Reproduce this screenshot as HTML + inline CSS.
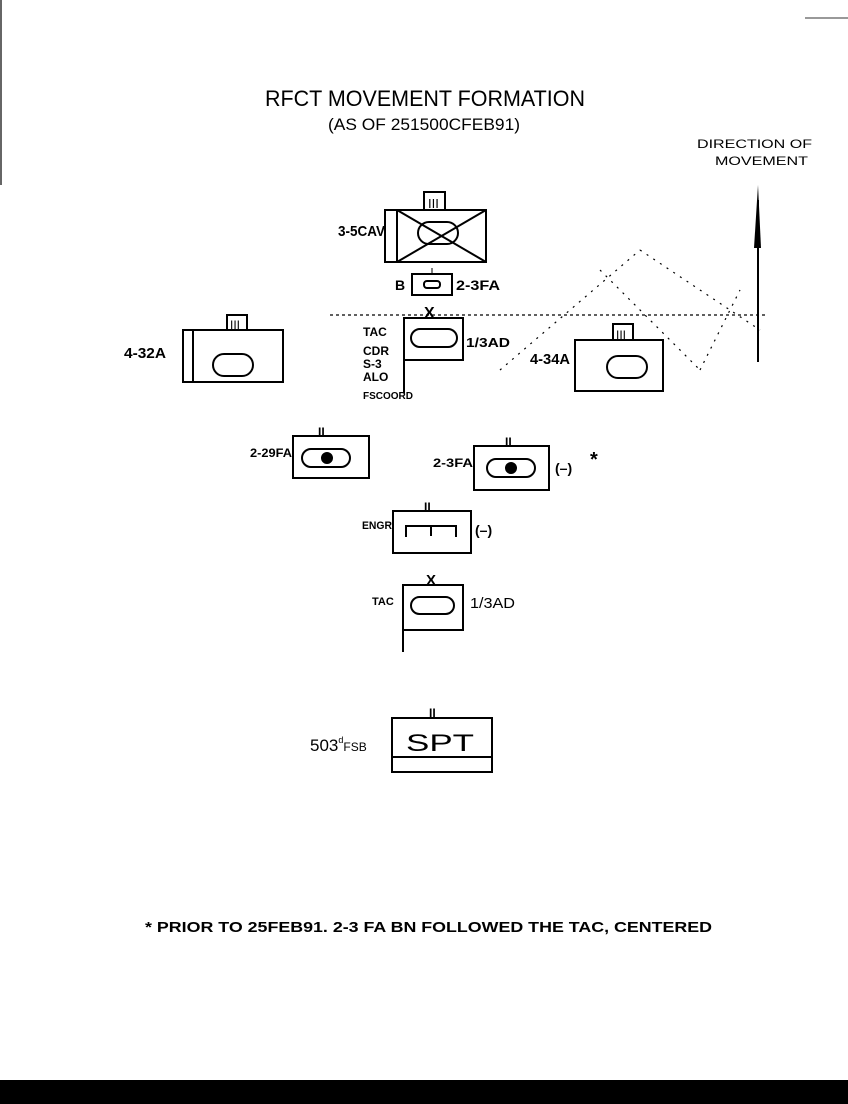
<!DOCTYPE html>
<html><head><meta charset="utf-8"><style>
html,body{margin:0;padding:0;background:#fff}
svg{display:block}
text{font-family:"Liberation Sans",sans-serif;fill:#000}
.b{font-weight:bold}
</style></head><body>
<svg width="848" height="1104" viewBox="0 0 848 1104" xmlns="http://www.w3.org/2000/svg">
<rect x="0" y="1080" width="848" height="24" fill="#000"/>
<line x1="1" y1="0" x2="1" y2="185" stroke="#333" stroke-width="1.5"/>
<line x1="805" y1="18" x2="848" y2="18" stroke="#333" stroke-width="1"/>
<g stroke="#000" stroke-width="2" fill="none">
<text x="265" y="106" font-size="22" textLength="320" lengthAdjust="spacingAndGlyphs" stroke="none">RFCT MOVEMENT FORMATION</text>
<text x="328" y="130" font-size="17" textLength="192" lengthAdjust="spacingAndGlyphs" stroke="none">(AS OF 251500CFEB91)</text>
<text x="697" y="148" font-size="12" textLength="115" lengthAdjust="spacingAndGlyphs" stroke="none">DIRECTION OF</text>
<text x="715" y="165" font-size="12" textLength="93" lengthAdjust="spacingAndGlyphs" stroke="none">MOVEMENT</text>
<line x1="758" y1="200" x2="758" y2="362"/>
<polygon points="758,185 754,248 761,248" fill="#000" stroke="none"/>
<line x1="330" y1="315" x2="765" y2="315" stroke-dasharray="3,3" stroke-width="1.3"/>
<g stroke-dasharray="2,6" stroke-width="1.2">
<line x1="500" y1="370" x2="640" y2="250"/><line x1="640" y1="250" x2="760" y2="330"/>
<line x1="600" y1="270" x2="700" y2="370"/><line x1="700" y1="370" x2="740" y2="290"/>
</g>
<rect x="424" y="192" width="21" height="18"/>
<text x="428" y="208" font-size="13" stroke="none">III</text>
<rect x="385" y="210" width="101" height="52"/>
<line x1="397" y1="210" x2="397" y2="262"/>
<line x1="397" y1="210" x2="486" y2="262"/><line x1="486" y1="210" x2="397" y2="262"/>
<rect x="418" y="222" width="40" height="22" rx="11"/>
<text class="b" x="338" y="236" font-size="15" textLength="47" lengthAdjust="spacingAndGlyphs" stroke="none">3-5CAV</text>
<rect x="412" y="274" width="40" height="21"/>
<rect x="424" y="281" width="16" height="7" rx="3"/>
<line x1="432" y1="268" x2="432" y2="274" stroke-width="1"/>
<text class="b" x="395" y="290" font-size="14" stroke="none">B</text>
<text class="b" x="456" y="290" font-size="14" textLength="44" lengthAdjust="spacingAndGlyphs" stroke="none">2-3FA</text>
<text class="b" x="424" y="318" font-size="16" stroke="none">X</text>
<rect x="404" y="318" width="59" height="42"/>
<line x1="404" y1="360" x2="404" y2="393"/>
<rect x="411" y="329" width="46" height="18" rx="9"/>
<text class="b" x="466" y="347" font-size="13" textLength="44" lengthAdjust="spacingAndGlyphs" stroke="none">1/3AD</text>
<g font-size="12" stroke="none" class="b"><text x="363" y="336">TAC</text><text x="363" y="355">CDR</text><text x="363" y="368">S-3</text><text x="363" y="381">ALO</text><text x="363" y="399" font-size="10">FSCOORD</text></g>
<rect x="227" y="315" width="20" height="15"/>
<text x="230" y="329" font-size="12" stroke="none">III</text>
<rect x="183" y="330" width="100" height="52"/>
<line x1="193" y1="330" x2="193" y2="382"/>
<rect x="213" y="354" width="40" height="22" rx="11"/>
<text class="b" x="124" y="358" font-size="15" textLength="42" lengthAdjust="spacingAndGlyphs" stroke="none">4-32A</text>
<rect x="613" y="324" width="20" height="16"/>
<text x="616" y="339" font-size="12" stroke="none">III</text>
<rect x="575" y="340" width="88" height="51"/>
<rect x="607" y="356" width="40" height="22" rx="11"/>
<text class="b" x="530" y="364" font-size="15" textLength="40" lengthAdjust="spacingAndGlyphs" stroke="none">4-34A</text>
<text class="b" x="318" y="436" font-size="12" stroke="none">II</text>
<rect x="293" y="436" width="76" height="42"/>
<rect x="302" y="449" width="48" height="18" rx="9"/>
<circle cx="327" cy="458" r="5" fill="#000"/>
<text class="b" x="250" y="457" font-size="12" textLength="42" lengthAdjust="spacingAndGlyphs" stroke="none">2-29FA</text>
<text class="b" x="505" y="446" font-size="12" stroke="none">II</text>
<rect x="474" y="446" width="75" height="44"/>
<rect x="487" y="459" width="48" height="18" rx="9"/>
<circle cx="511" cy="468" r="5" fill="#000"/>
<text class="b" x="433" y="467" font-size="12" textLength="40" lengthAdjust="spacingAndGlyphs" stroke="none">2-3FA</text>
<text class="b" x="555" y="473" font-size="14" stroke="none">(–)</text>
<text class="b" x="590" y="466" font-size="20" stroke="none">*</text>
<text class="b" x="424" y="511" font-size="12" stroke="none">II</text>
<rect x="393" y="511" width="78" height="42"/>
<polyline points="406,537 406,526 456,526 456,537"/>
<line x1="431" y1="526" x2="431" y2="536"/>
<text class="b" x="362" y="529" font-size="11" textLength="30" lengthAdjust="spacingAndGlyphs" stroke="none">ENGR</text>
<text class="b" x="475" y="535" font-size="14" stroke="none">(–)</text>
<text class="b" x="426" y="585" font-size="15" stroke="none">X</text>
<rect x="403" y="585" width="60" height="45"/>
<line x1="403" y1="630" x2="403" y2="652"/>
<rect x="411" y="597" width="43" height="17" rx="8.5"/>
<text class="b" x="372" y="605" font-size="11" stroke="none">TAC</text>
<text x="470" y="608" font-size="15" textLength="45" lengthAdjust="spacingAndGlyphs" stroke="none">1/3AD</text>
<text class="b" x="429" y="717" font-size="12" stroke="none">II</text>
<rect x="392" y="718" width="100" height="54"/>
<line x1="392" y1="757" x2="492" y2="757"/>
<text x="406" y="751" font-size="24" textLength="68" lengthAdjust="spacingAndGlyphs" stroke="none">SPT</text>
<text x="310" y="751" font-size="17" stroke="none">503<tspan font-size="9" dy="-8">d</tspan><tspan font-size="12" dy="8">FSB</tspan></text>
<text class="b" x="145" y="932" font-size="15" textLength="567" lengthAdjust="spacingAndGlyphs" stroke="none">* PRIOR TO 25FEB91. 2-3 FA BN FOLLOWED THE TAC, CENTERED</text>
</g>
</svg>
</body></html>
